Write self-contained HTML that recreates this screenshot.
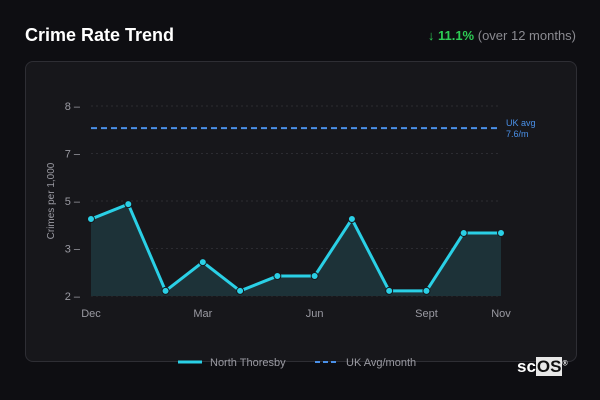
<!DOCTYPE html>
<html><head><meta charset="utf-8"><style>
body{margin:0;width:600px;height:400px;background:#0e0e12;font-family:"Liberation Sans",sans-serif;overflow:hidden;position:relative}
.title{position:absolute;left:25px;top:25px;color:#fff;font-weight:bold;font-size:18px}
.chg{position:absolute;right:24px;top:28px;font-size:13px;color:#8a8a90}
.chg b{color:#2ecc55}
.card{position:absolute;left:25px;top:61px;width:550px;height:299px;border:1px solid #2e2e34;border-radius:8px;background:#17171b}
svg{position:absolute;left:0;top:0}
.logo{position:absolute;left:517px;top:357px;color:#fff;font-weight:bold;font-size:17px}
.logo span{background:#e8e8e8;color:#111;padding:0 1px}
</style></head><body>
<div class="title">Crime Rate Trend</div>
<div class="chg"><b>↓ 11.1%</b> (over 12 months)</div>
<div class="card"></div>
<svg id="c" width="600" height="400"></svg>
<div class="logo">sc<span>OS</span><sup style="font-size:7px">®</sup></div>
<script>
const months=["Dec","Jan","Feb","Mar","Apr","May","Jun","Jul","Aug","Sept","Oct","Nov"];
const values=[4.43,4.9,2.16,3.07,2.16,2.63,2.63,4.43,2.16,2.16,3.99,3.99];
const xLabels=["Dec","Mar","Jun","Sept","Nov"];
const yTicks=[2,3.5,5,6.5,8];
const yTickLabels=["2","3","5","7","8"];
const ukAvg=[7.3];
const ns="http://www.w3.org/2000/svg",s=document.getElementById('c');
const X=i=>91+i*(410/(months.length-1));
const Y=v=>296-(v-2)*(190/6);
function mk(t,a,txt){const e=document.createElementNS(ns,t);for(const k in a)e.setAttribute(k,a[k]);if(txt!=null)e.textContent=txt;s.appendChild(e);return e;}
yTicks.forEach((v,i)=>{
 const g=mk('line',{x1:91,x2:501,y1:Y(v),y2:Y(v),stroke:'#2c2c32','stroke-dasharray':'2 3'});
 
 
 const t=mk('text',{x:80,y:Y(v)+4,fill:'#9a9aa2','font-size':11,'text-anchor':'end'},yTickLabels[i]+' –');
 
 
});
const yt=mk('text',{x:54,y:201,fill:'#9a9aa2','font-size':10,'text-anchor':'middle',transform:'rotate(-90 54 201)'},'Crimes per 1,000');


xLabels.forEach(l=>{
 const t=mk('text',{x:X(months.indexOf(l)),y:317,fill:'#9a9aa2','font-size':11,'text-anchor':'middle'},l);
 
 
});
const uk=mk('line',{x1:91,x2:501,y1:Y(ukAvg[0]),y2:Y(ukAvg[0]),stroke:'#4a90e8','stroke-width':2,'stroke-dasharray':'6 4'});


const ul=mk('text',{x:506,y:Y(ukAvg[0])-2,fill:'#4a90e8','font-size':9},'UK avg');


const ul2=mk('text',{x:506,y:Y(ukAvg[0])+9,fill:'#4a90e8','font-size':9},'7.6/m');


let d=values.map((v,i)=>(i?'L':'M')+X(i)+' '+Y(v)).join(' ');
const area=mk('path',{d:d+` L${X(values.length-1)} 296 L${X(0)} 296 Z`,fill:'#1d3238'});


const ln=mk('path',{d:d,fill:'none',stroke:'#2ad0e6','stroke-width':3,'stroke-linejoin':'round'});


values.forEach((v,i)=>{
 const c=mk('circle',{cx:X(i),cy:Y(v),r:3.5,fill:'#2ad0e6',stroke:'#17171b','stroke-width':1});
 
 
});
const l1=mk('line',{x1:178,x2:202,y1:362,y2:362,stroke:'#2ad0e6','stroke-width':3});


const lt1=mk('text',{x:210,y:366,fill:'#9a9aa2','font-size':11},'North Thoresby');


const l2=mk('line',{x1:315,x2:339,y1:362,y2:362,stroke:'#4a90e8','stroke-width':2,'stroke-dasharray':'5 3'});


const lt2=mk('text',{x:346,y:366,fill:'#9a9aa2','font-size':11},'UK Avg/month');


</script>
</body></html>
